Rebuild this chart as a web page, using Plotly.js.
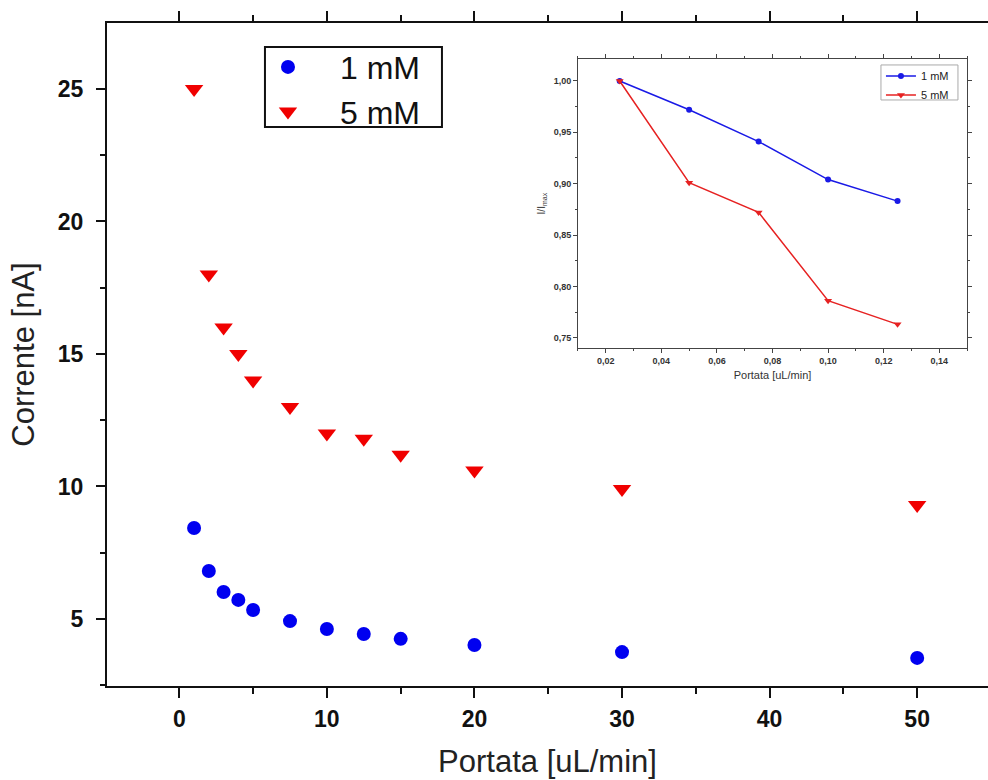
<!DOCTYPE html>
<html><head><meta charset="utf-8">
<script src="https://cdn.plot.ly/plotly-3.0.1.min.js"></script>
<style>html,body{margin:0;padding:0;background:#fff}#c{width:988px;height:780px}</style>
</head><body><div id="c"></div>
<script>
// Main chart data
const flow = [1, 2, 3, 4, 5, 7.5, 10, 12.5, 15, 20, 30, 50];
const current1mM = [8.43, 6.81, 6.02, 5.72, 5.34, 4.92, 4.62, 4.43, 4.25, 4.02, 3.75, 3.53];
const current5mM = [25.0, 18.0, 16.0, 15.0, 14.0, 13.0, 12.0, 11.8, 11.2, 10.6, 9.9, 9.3];
// Inset data
const insetFlow = [0.025, 0.05, 0.075, 0.10, 0.125];
const ratio1mM = [1.000, 0.972, 0.941, 0.904, 0.883];
const ratio5mM = [1.000, 0.901, 0.872, 0.786, 0.763];
const seriesNames = ['1 mM', '5 mM'];

const F = 'Arial, "Liberation Sans", sans-serif';
const blue = '#0000f0', red = '#f00000';
const iblue = '#1a1ae6', ired = '#e62222';

const traces = [
  {x: flow, y: current1mM, type: 'scatter', mode: 'markers', name: seriesNames[0],
   marker: {symbol: 'circle', size: 14, color: blue}, xaxis: 'x', yaxis: 'y'},
  {x: flow, y: current5mM, type: 'scatter', mode: 'markers', name: seriesNames[1],
   marker: {symbol: 'triangle-down', size: 16, color: red}, xaxis: 'x', yaxis: 'y'},
  {x: insetFlow, y: ratio1mM, type: 'scatter', mode: 'lines+markers', name: seriesNames[0],
   line: {color: iblue, width: 1.5}, marker: {symbol: 'circle', size: 6, color: iblue},
   xaxis: 'x2', yaxis: 'y2', legend: 'legend2'},
  {x: insetFlow, y: ratio5mM, type: 'scatter', mode: 'lines+markers', name: seriesNames[1],
   line: {color: ired, width: 1.5}, marker: {symbol: 'triangle-down', size: 7, color: ired},
   xaxis: 'x2', yaxis: 'y2', legend: 'legend2'}
];

const layout = {
  width: 988, height: 780,
  margin: {l: 107, r: 0, t: 23, b: 94},
  paper_bgcolor: '#fff', plot_bgcolor: '#fff',
  separators: ',.',
  font: {family: F, color: '#111'},
  showlegend: true,
  xaxis: {
    range: [-4.9, 54.8], domain: [0, 1], anchor: 'y',
    tickmode: 'linear', tick0: 0, dtick: 10,
    ticks: 'outside', ticklen: 10, tickwidth: 2, tickcolor: '#111',
    minor: {ticks: 'outside', dtick: 5, tick0: 0, ticklen: 6, tickwidth: 2, tickcolor: '#111'},
    showline: true, linewidth: 2, linecolor: '#111', mirror: 'ticks',
    showgrid: false, zeroline: false,
    tickfont: {family: F, size: 23, weight: 'bold', color: '#111'},
    ticklabelstandoff: 1,
    title: {text: 'Portata [uL/min]', font: {family: F, size: 31, color: '#222'}, standoff: 20}
  },
  yaxis: {
    range: [2.47, 27.49], domain: [0, 1], anchor: 'x',
    tickmode: 'linear', tick0: 0, dtick: 5,
    ticks: 'outside', ticklen: 9, tickwidth: 2, tickcolor: '#111',
    minor: {ticks: 'outside', dtick: 2.5, tick0: 0, ticklen: 5, tickwidth: 2, tickcolor: '#111'},
    showline: true, linewidth: 2, linecolor: '#111', mirror: false,
    showgrid: false, zeroline: false,
    tickfont: {family: F, size: 23, weight: 'bold', color: '#111'},
    ticklabelstandoff: 8,
    title: {text: 'Corrente [nA]', font: {family: F, size: 31, color: '#222'}, standoff: 14}
  },
  xaxis2: {
    range: [0.01, 0.15], domain: [0.5346, 0.9762], anchor: 'y2',
    tickmode: 'linear', tick0: 0, dtick: 0.02, tickformat: '.2f',
    ticks: 'outside', ticklen: 4, tickwidth: 1, tickcolor: '#444',
    minor: {ticks: 'outside', dtick: 0.01, ticklen: 2, tickwidth: 1, tickcolor: '#444'},
    showline: true, linewidth: 1, linecolor: '#444', mirror: 'ticks',
    showgrid: false, zeroline: false,
    tickfont: {family: F, size: 9, weight: 'bold', color: '#333'},
    title: {text: 'Portata [uL/min]', font: {family: F, size: 11, color: '#333'}, standoff: 6}
  },
  yaxis2: {
    range: [0.7397, 1.0214], domain: [0.5094, 0.9457], anchor: 'x2',
    tickmode: 'linear', tick0: 0, dtick: 0.05, tickformat: '.2f',
    ticks: 'outside', ticklen: 4, tickwidth: 1, tickcolor: '#444',
    minor: {ticks: 'outside', dtick: 0.025, ticklen: 2, tickwidth: 1, tickcolor: '#444'},
    showline: true, linewidth: 1, linecolor: '#444', mirror: 'ticks',
    showgrid: false, zeroline: false,
    tickfont: {family: F, size: 9, weight: 'bold', color: '#333'},
    title: {text: 'I/I<sub>max</sub>', font: {family: F, size: 10, color: '#333'}, standoff: 6}
  },
  shapes: [
    {type: 'rect', xref: 'paper', yref: 'paper', x0: 0.1793, x1: 0.3802, y0: 0.8431, y1: 0.9638,
     line: {color: '#111', width: 2}, fillcolor: '#fff', layer: 'above'},
    {type: 'rect', xref: 'paper', yref: 'paper', x0: 0.8785, x1: 0.9659, y0: 0.8839, y1: 0.9367,
     line: {color: '#aaa', width: 1}, fillcolor: '#fff', layer: 'above'}
  ],
  legend: {
    x: 0.1464, y: 0.975, xanchor: 'left', yanchor: 'top',
    bgcolor: 'rgba(0,0,0,0)', borderwidth: 0,
    font: {family: F, size: 32, color: '#111'},
    itemwidth: 94, tracegroupgap: 0
  },
  legend2: {
    x: 0.8785, y: 0.942, xanchor: 'left', yanchor: 'top',
    bgcolor: 'rgba(0,0,0,0)', borderwidth: 0,
    font: {family: F, size: 11, color: '#222'},
    itemwidth: 30, tracegroupgap: 0
  }
};

Plotly.newPlot('c', traces, layout, {displayModeBar: false, staticPlot: true});
</script>
</body></html>
